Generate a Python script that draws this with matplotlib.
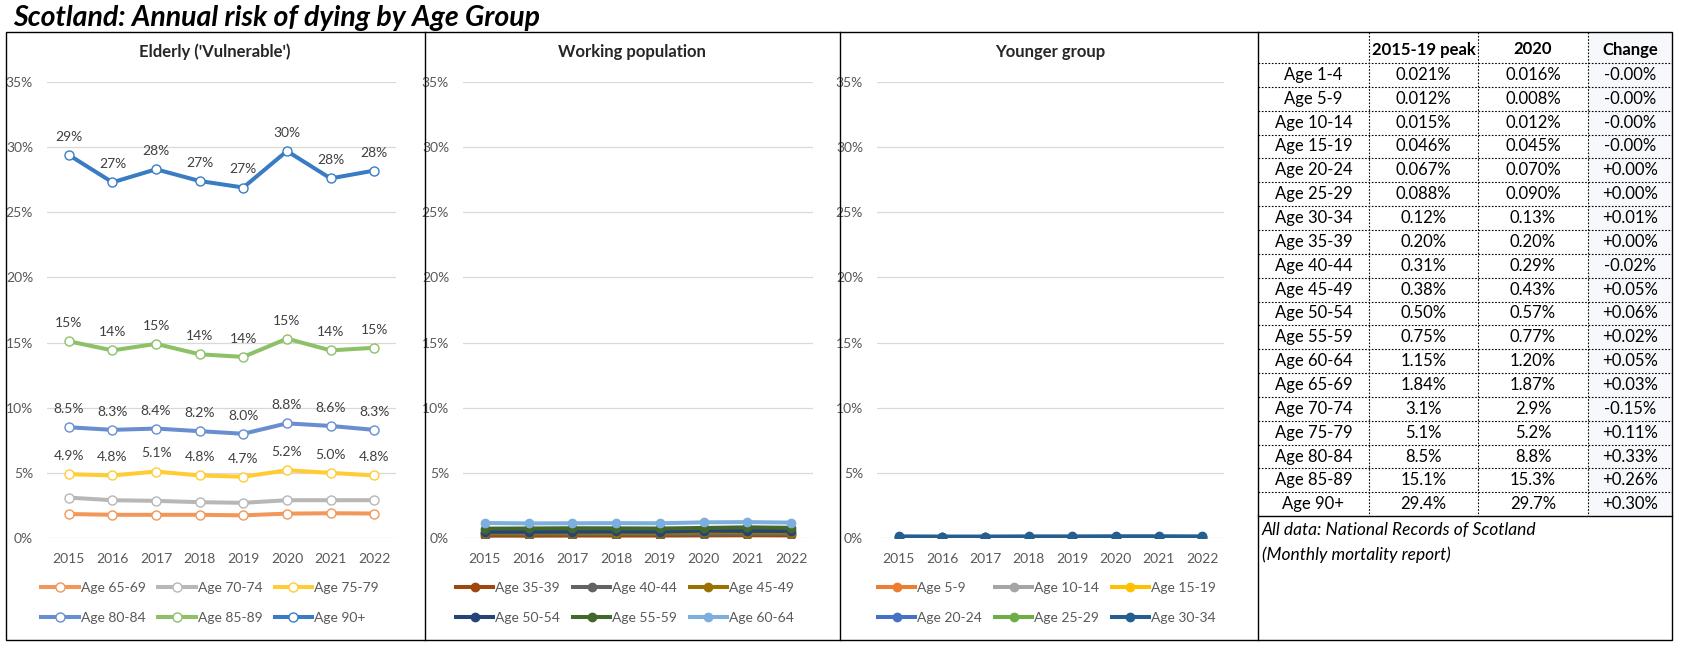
import matplotlib
matplotlib.use("Agg")
import matplotlib.pyplot as plt
from matplotlib.lines import Line2D
from matplotlib.patches import Rectangle
from matplotlib.ticker import FuncFormatter, MultipleLocator

plt.rcParams['font.family'] = ['Lato', 'DejaVu Sans']

W, H = 1682, 649

years = ["2015", "2016", "2017", "2018", "2019", "2020", "2021", "2022"]

# Elderly (values in %)
elderly_labels = ["Age 65-69", "Age 70-74", "Age 75-79", "Age 80-84", "Age 85-89", "Age 90+"]
age_65_69 = [1.84, 1.78, 1.78, 1.78, 1.74, 1.87, 1.90, 1.88]
age_70_74 = [3.10, 2.90, 2.85, 2.75, 2.70, 2.90, 2.90, 2.90]
age_75_79 = [4.9, 4.8, 5.1, 4.8, 4.7, 5.2, 5.0, 4.8]
age_80_84 = [8.5, 8.3, 8.4, 8.2, 8.0, 8.8, 8.6, 8.3]
age_85_89 = [15.1, 14.4, 14.9, 14.1, 13.9, 15.3, 14.4, 14.6]
age_90p = [29.4, 27.3, 28.3, 27.4, 26.9, 29.7, 27.6, 28.2]
elderly_colors = ["#F1975A", "#B7B7B7", "#FFCD33", "#698ED0", "#8CC168", "#3A7CC4"]

# Working population
working_labels = ["Age 35-39", "Age 40-44", "Age 45-49", "Age 50-54", "Age 55-59", "Age 60-64"]
age_35_39 = [0.18, 0.18, 0.19, 0.19, 0.19, 0.20, 0.21, 0.20]
age_40_44 = [0.29, 0.29, 0.30, 0.31, 0.30, 0.29, 0.31, 0.30]
age_45_49 = [0.38, 0.37, 0.38, 0.38, 0.37, 0.43, 0.42, 0.40]
age_50_54 = [0.48, 0.48, 0.49, 0.50, 0.49, 0.57, 0.55, 0.54]
age_55_59 = [0.72, 0.73, 0.75, 0.74, 0.73, 0.77, 0.82, 0.78]
age_60_64 = [1.15, 1.12, 1.13, 1.14, 1.13, 1.20, 1.22, 1.18]
working_colors = ["#9E480E", "#636363", "#997300", "#264478", "#43682B", "#7CAFDD"]

# Younger group
younger_labels = ["Age 5-9", "Age 10-14", "Age 15-19", "Age 20-24", "Age 25-29", "Age 30-34"]
age_5_9 = [0.012, 0.010, 0.009, 0.011, 0.010, 0.008, 0.009, 0.008]
age_10_14 = [0.015, 0.013, 0.012, 0.014, 0.013, 0.012, 0.011, 0.012]
age_15_19 = [0.046, 0.040, 0.042, 0.044, 0.038, 0.045, 0.040, 0.042]
age_20_24 = [0.067, 0.060, 0.063, 0.065, 0.062, 0.070, 0.068, 0.066]
age_25_29 = [0.088, 0.080, 0.083, 0.085, 0.082, 0.090, 0.092, 0.088]
age_30_34 = [0.12, 0.11, 0.11, 0.12, 0.12, 0.13, 0.13, 0.12]
younger_colors = ["#ED7D31", "#A5A5A5", "#FFC000", "#4472C4", "#70AD47", "#255E91"]

# Table
table_header = ["", "2015-19 peak", "2020", "Change"]
table_ages = ["Age 1-4", "Age 5-9", "Age 10-14", "Age 15-19", "Age 20-24", "Age 25-29",
              "Age 30-34", "Age 35-39", "Age 40-44", "Age 45-49", "Age 50-54", "Age 55-59",
              "Age 60-64", "Age 65-69", "Age 70-74", "Age 75-79", "Age 80-84", "Age 85-89",
              "Age 90+"]
table_peak = ["0.021%", "0.012%", "0.015%", "0.046%", "0.067%", "0.088%", "0.12%", "0.20%",
              "0.31%", "0.38%", "0.50%", "0.75%", "1.15%", "1.84%", "3.1%", "5.1%", "8.5%",
              "15.1%", "29.4%"]
table_2020 = ["0.016%", "0.008%", "0.012%", "0.045%", "0.070%", "0.090%", "0.13%", "0.20%",
              "0.29%", "0.43%", "0.57%", "0.77%", "1.20%", "1.87%", "2.9%", "5.2%", "8.8%",
              "15.3%", "29.7%"]
table_change = ["-0.00%", "-0.00%", "-0.00%", "-0.00%", "+0.00%", "+0.00%", "+0.01%", "+0.00%",
                "-0.02%", "+0.05%", "+0.06%", "+0.02%", "+0.05%", "+0.03%", "-0.15%", "+0.11%",
                "+0.33%", "+0.26%", "+0.30%"]

fig = plt.figure(figsize=(W / 100, H / 100), dpi=100)


def fx(x):
    return x / W


def fy(y):
    return 1 - y / H


def pct_fmt(v, _):
    return f"{v:.0f}%"


TICK_COLOR = "#595959"


def make_axes(left, right, top, bottom, title, tcx):
    ax = fig.add_axes([fx(left), fy(bottom), (right - left) / W, (bottom - top) / H])
    ax.set_xlim(-0.5, 7.5)
    ax.set_ylim(0, 35)
    ax.yaxis.set_major_locator(MultipleLocator(5))
    ax.yaxis.set_major_formatter(FuncFormatter(pct_fmt))
    ax.set_xticks(range(len(years)))
    ax.set_xticklabels(years)
    ax.grid(axis='y', color="#D9D9D9", linewidth=0.9)
    ax.set_axisbelow(True)
    for s in ax.spines.values():
        s.set_visible(False)
    ax.tick_params(axis='both', length=0, labelsize=10, colors=TICK_COLOR)
    ax.tick_params(axis='y', pad=10)
    ax.tick_params(axis='x', pad=11)
    ax.patch.set_alpha(0)
    fig.text(fx(tcx), fy(52), title, ha='center', va='center', fontsize=12,
             fontweight='bold', color="#262626")
    return ax


x = list(range(len(years)))

# Panel 1: Elderly
ax1 = make_axes(47, 396, 82, 538, "Elderly ('Vulnerable')", 215)
eld_series = [age_65_69, age_70_74, age_75_79, age_80_84, age_85_89, age_90p]
h1 = []
for vals, lab, col in zip(eld_series, elderly_labels, elderly_colors):
    ln, = ax1.plot(x, vals, color=col, lw=2.9, marker='o', markersize=6.5,
                   markerfacecolor='white', markeredgecolor=col, markeredgewidth=1.0,
                   label=lab, solid_joinstyle='round')
    h1.append(ln)
for vals, fmt in [(age_75_79, "{:.1f}%"), (age_80_84, "{:.1f}%"),
                  (age_85_89, "{:.0f}%"), (age_90p, "{:.0f}%")]:
    for xi, v in zip(x, vals):
        ax1.annotate(fmt.format(v), (xi, v), xytext=(0, 13), textcoords='offset points',
                     ha='center', va='center', fontsize=10, color="#404040")

# Panel 2: Working population
ax2 = make_axes(463, 813, 82, 538, "Working population", 632)
work_series = [age_35_39, age_40_44, age_45_49, age_50_54, age_55_59, age_60_64]
h2 = []
for vals, lab, col in zip(work_series, working_labels, working_colors):
    ln, = ax2.plot(x, vals, color=col, lw=2.9, marker='o', markersize=6,
                   markerfacecolor=col, markeredgecolor=col, label=lab)
    h2.append(ln)

# Panel 3: Younger group
ax3 = make_axes(877, 1224, 82, 538, "Younger group", 1050)
young_series = [age_5_9, age_10_14, age_15_19, age_20_24, age_25_29, age_30_34]
h3 = []
for vals, lab, col in zip(young_series, younger_labels, younger_colors):
    ln, = ax3.plot(x, vals, color=col, lw=2.9, marker='o', markersize=6,
                   markerfacecolor=col, markeredgecolor=col, label=lab)
    h3.append(ln)


def add_legend(handles, cx):
    order = [0, 3, 1, 4, 2, 5]
    hs = [handles[i] for i in order]
    fig.legend(hs, [h.get_label() for h in hs], loc='center',
               bbox_to_anchor=(fx(cx), fy(603)), ncol=3, frameon=False,
               fontsize=10, handlelength=2.7, handletextpad=0.15, columnspacing=0.9,
               labelspacing=1.25, labelcolor=TICK_COLOR, borderpad=0)


add_legend(h1, 210)
add_legend(h2, 625)
add_legend(h3, 1047)

# Outer frame and dividers
fig.add_artist(Rectangle((fx(6), fy(640)), (1672 - 6) / W, (640 - 32) / H,
                         transform=fig.transFigure, fill=False, edgecolor='black', lw=1.0))
for xd in [425, 840, 1258]:
    fig.add_artist(Line2D([fx(xd), fx(xd)], [fy(32), fy(640)], transform=fig.transFigure,
                          color='black', lw=1.0))

# Title
fig.text(fx(13), fy(18), "Scotland: Annual risk of dying by Age Group", ha='left', va='center',
         fontsize=20.5, fontweight='bold', style='italic', color='black')

# Table
col_edges = [1258, 1369, 1478, 1588, 1672]
col_centers = [(col_edges[i] + col_edges[i + 1]) / 2 for i in range(4)]
top = 32
header_bottom = 63
row_h = 23.85
n = len(table_ages)
table_bottom = header_bottom + n * row_h

# light shading of change column
fig.add_artist(Rectangle((fx(col_edges[3]), fy(table_bottom)),
                         (col_edges[4] - col_edges[3]) / W, (table_bottom - top) / H,
                         transform=fig.transFigure, facecolor="#F7F8FB", edgecolor='none',
                         zorder=0))

for xi in col_edges[1:4]:
    fig.add_artist(Line2D([fx(xi), fx(xi)], [fy(top), fy(table_bottom)],
                          transform=fig.transFigure, color='black', lw=0.8,
                          linestyle=(0, (1.5, 1.5))))
for i in range(n):
    yl = header_bottom + i * row_h
    fig.add_artist(Line2D([fx(col_edges[0]), fx(col_edges[-1])], [fy(yl), fy(yl)],
                          transform=fig.transFigure, color='black', lw=0.8,
                          linestyle=(0, (1.5, 1.5))))
fig.add_artist(Line2D([fx(col_edges[0]), fx(col_edges[-1])], [fy(table_bottom), fy(table_bottom)],
                      transform=fig.transFigure, color='black', lw=1.0))

hy = (top + header_bottom) / 2 + 2
for cx, txt in zip(col_centers, table_header):
    fig.text(fx(cx), fy(hy), txt, ha='center', va='center', fontsize=12,
             fontweight='bold', color='black')

for i in range(n):
    cy = header_bottom + (i + 0.5) * row_h
    row = [table_ages[i], table_peak[i], table_2020[i], table_change[i]]
    for cx, txt in zip(col_centers, row):
        fig.text(fx(cx), fy(cy), txt, ha='center', va='center', fontsize=12, color='black')

fig.text(fx(1262), fy(530), "All data: National Records of Scotland", ha='left', va='center',
         fontsize=12.5, style='italic', color='black')
fig.text(fx(1262), fy(555), "(Monthly mortality report)", ha='left', va='center',
         fontsize=12.5, style='italic', color='black')

fig.savefig("out.png", dpi=100, facecolor='white')
